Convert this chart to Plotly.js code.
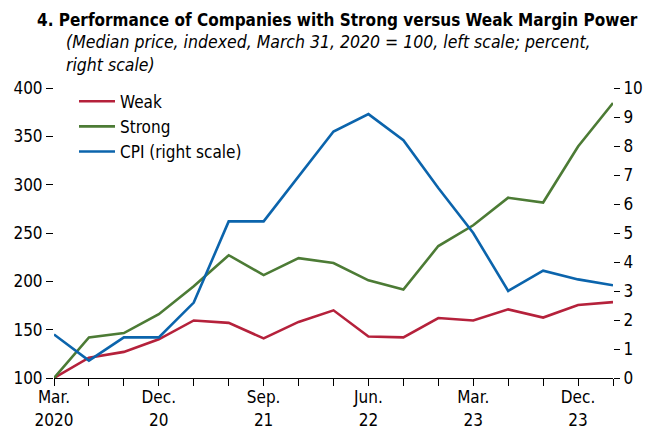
<!DOCTYPE html>
<html>
<head>
<meta charset="utf-8">
<script src="https://cdn.plot.ly/plotly-3.0.1.min.js"></script>
<style>html,body{margin:0;padding:0;background:#fff;}#chart{width:660px;height:432px;}</style>
</head>
<body>
<div id="chart"></div>
<script>
const quarters = ["2020Q1","2020Q2","2020Q3","2020Q4","2021Q1","2021Q2","2021Q3","2021Q4","2022Q1","2022Q2","2022Q3","2022Q4","2023Q1","2023Q2","2023Q3","2023Q4","2024Q1"];
const tickLabels = ["Mar.<br>2020","","","Dec.<br>20","","","Sep.<br>21","","","Jun.<br>22","","","Mar.<br>23","","","Dec.<br>23",""];
const weak = [100,121,127,140,159.5,157,141,158,170,143,142,162,159.5,171,162.5,175.5,178.5];
const strong = [100,142,146.5,166,195,227,206.5,224,219,201,191.5,236.5,258,286.5,281.5,339.5,384.5];
const cpi = [1.5,0.6,1.4,1.4,2.6,5.4,5.4,6.95,8.5,9.1,8.2,6.55,5.0,3.0,3.7,3.4,3.2];

const FONT = '"DejaVu Sans Condensed", "DejaVu Sans", sans-serif';
const plotTop = 88.3, plotBot = 377.7, plotH = plotBot - plotTop;
const plotL = 54, plotR = 613, plotW = plotR - plotL;
function py(pix){ return (plotBot - pix) / plotH; }
function px(pix){ return (pix - plotL) / plotW; }

const traces = [
  {x: quarters, y: weak, name: "Weak", type: "scatter", mode: "lines", line: {color: "#B5213B", width: 2.6}, yaxis: "y"},
  {x: quarters, y: strong, name: "Strong", type: "scatter", mode: "lines", line: {color: "#4C7B35", width: 2.6}, yaxis: "y"},
  {x: quarters, y: cpi, name: "CPI (right scale)", type: "scatter", mode: "lines", line: {color: "#0B64AC", width: 2.6}, yaxis: "y2"}
];

const layout = {
  width: 660, height: 432,
  margin: {l: plotL, r: 660 - plotR, t: plotTop, b: 432 - plotBot, pad: 0},
  paper_bgcolor: "#fff", plot_bgcolor: "#fff",
  font: {family: FONT, size: 17, color: "#000"},
  showlegend: true,
  legend: {x: px(74), y: py(84), xanchor: "left", yanchor: "top", bgcolor: "rgba(0,0,0,0)", font: {family: FONT, size: 17, color: "#000"}, tracegroupgap: 0, itemwidth: 36},
  xaxis: {
    type: "category", range: [0, 16], tickmode: "array", tickvals: quarters, ticktext: tickLabels,
    showgrid: false, zeroline: false, showline: true, linecolor: "#000", linewidth: 1,
    ticks: "outside", ticklen: 7, tickcolor: "#000", tickwidth: 1, tickangle: 0, ticklabelstandoff: -3,
    tickfont: {family: FONT, size: 17, color: "#000"}, fixedrange: true
  },
  yaxis: {
    range: [100, 400], dtick: 50, tick0: 100, showgrid: false, zeroline: false, showline: false,
    ticks: "outside", ticklen: 7, tickcolor: "#000", tickwidth: 1,
    tickfont: {family: FONT, size: 17, color: "#000"}, fixedrange: true
  },
  yaxis2: {
    range: [0, 10], dtick: 1, tick0: 0, overlaying: "y", side: "right", showgrid: false, zeroline: false, showline: false,
    ticks: "outside", ticklen: 6, tickcolor: "#000", tickwidth: 1,
    tickfont: {family: FONT, size: 17, color: "#000"}, fixedrange: true
  },
  annotations: [
    {xref: "paper", yref: "paper", x: px(35), y: py(8), xanchor: "left", yanchor: "top", showarrow: false, align: "left",
     text: "<b>4. Performance of Companies with Strong versus Weak Margin Power</b>", font: {family: FONT, size: 17, color: "#000"}},
    {xref: "paper", yref: "paper", x: px(64), y: py(30), xanchor: "left", yanchor: "top", showarrow: false, align: "left",
     text: "<i>(Median price, indexed, March 31, 2020 = 100, left scale; percent,<br>right scale)</i>", font: {family: FONT, size: 17.5, color: "#000"}}
  ]
};

Plotly.newPlot("chart", traces, layout, {displayModeBar: false, staticPlot: true});
</script>
</body>
</html>
